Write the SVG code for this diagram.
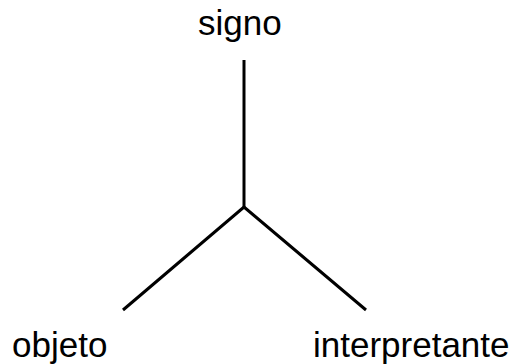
<svg xmlns="http://www.w3.org/2000/svg" width="509" height="364" viewBox="0 0 509 364">
<style>
.lbl{font-family:"Liberation Sans",Arial,sans-serif;font-size:35px;fill:#000}
.edge{stroke:#000;stroke-width:3;fill:none;stroke-linecap:butt;stroke-linejoin:miter}
</style>
<rect width="509" height="364" fill="#fff"/>
<g id="connectors">
<path class="edge" d="M244 60 V207"/>
<path class="edge" d="M123 310 L244 207 L366 310"/>
</g>
<g id="signo"><text class="lbl" x="198" y="35">signo</text></g>
<g id="objeto"><text class="lbl" x="12" y="357">objeto</text></g>
<g id="interpretante"><text class="lbl" x="313" y="357">interpretante</text></g>
</svg>
